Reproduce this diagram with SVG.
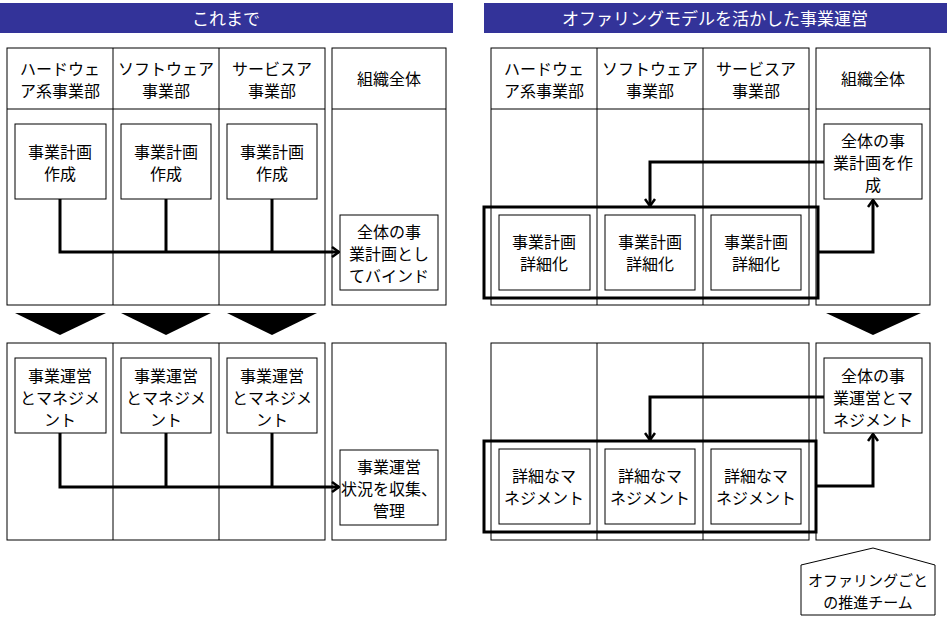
<svg xmlns="http://www.w3.org/2000/svg" width="950" height="625" viewBox="0 0 950 625">
<defs>
<style>
text{font-family:"Noto Sans CJK JP","Noto Sans CJK SC",sans-serif;font-size:16px;text-anchor:middle;fill:#000}
.hd{fill:#fff;font-size:17px}
.sm{font-size:15px}
.f{fill:#fff;stroke:#000;stroke-width:1}
.tk{fill:none;stroke:#000;stroke-width:3}
.ln{fill:none;stroke:#000;stroke-width:3}
</style>
<marker id="a" markerWidth="10" markerHeight="12" refX="8" refY="6" orient="auto" markerUnits="userSpaceOnUse"><path d="M1,1 L8,6 L1,11" fill="none" stroke="#000" stroke-width="2.5"/></marker>
</defs>
<rect x="0" y="3" width="453" height="30" fill="#333399"/>
<text class="hd" x="226" y="25">これまで</text>
<rect x="484" y="3" width="463" height="30" fill="#333399"/>
<text class="hd" x="715" y="25">オファリングモデルを活かした事業運営</text>

<g id="lanes">
<rect class="f" x="7" y="48" width="318" height="257"/>
<line x1="113" y1="48" x2="113" y2="305" stroke="#000"/><line x1="219" y1="48" x2="219" y2="305" stroke="#000"/>
<line x1="7" y1="109" x2="325" y2="109" stroke="#000"/>
<rect class="f" x="332" y="48" width="114" height="257"/><line x1="332" y1="109" x2="446" y2="109" stroke="#000"/>
<rect class="f" x="7" y="343" width="318" height="197"/>
<line x1="113" y1="343" x2="113" y2="540" stroke="#000"/><line x1="219" y1="343" x2="219" y2="540" stroke="#000"/>
<rect class="f" x="332" y="343" width="114" height="197"/>
<rect class="f" x="491" y="48" width="318" height="257"/>
<line x1="597" y1="48" x2="597" y2="305" stroke="#000"/><line x1="703" y1="48" x2="703" y2="305" stroke="#000"/>
<line x1="491" y1="109" x2="809" y2="109" stroke="#000"/>
<rect class="f" x="816" y="48" width="114" height="257"/><line x1="816" y1="109" x2="930" y2="109" stroke="#000"/>
<rect class="f" x="491" y="343" width="318" height="197"/>
<line x1="597" y1="343" x2="597" y2="540" stroke="#000"/><line x1="703" y1="343" x2="703" y2="540" stroke="#000"/>
<rect class="f" x="816" y="343" width="114" height="197"/>
<text x="60" y="75">ハードウェ</text><text x="60" y="97">ア系事業部</text>
<text x="166" y="75">ソフトウェア</text><text x="166" y="97">事業部</text>
<text x="272" y="75">サービスア</text><text x="272" y="97">事業部</text>
<text x="389" y="85">組織全体</text>
<text x="544" y="75">ハードウェ</text><text x="544" y="97">ア系事業部</text>
<text x="650" y="75">ソフトウェア</text><text x="650" y="97">事業部</text>
<text x="756" y="75">サービスア</text><text x="756" y="97">事業部</text>
<text x="873" y="85">組織全体</text>
</g>

<g id="tri">
<polygon points="15,313 106,313 60,335"/><polygon points="121,313 211,313 166,335"/><polygon points="227,313 317,313 272,335"/>
<polygon points="826,313 921,313 873,335"/>
</g>

<g id="connectors">
<polyline class="ln" points="60,199 60,252 339,252" marker-end="url(#a)"/>
<line class="ln" x1="166" y1="199" x2="166" y2="252"/><line class="ln" x1="272" y1="199" x2="272" y2="252"/>
<polyline class="ln" points="60,433 60,487 339,487" marker-end="url(#a)"/>
<line class="ln" x1="166" y1="433" x2="166" y2="487"/><line class="ln" x1="272" y1="433" x2="272" y2="487"/>
<polyline class="ln" points="824,162 650,162 650,206" marker-end="url(#a)"/>
<polyline class="ln" points="818,252 873,252 873,200" marker-end="url(#a)"/>
<polyline class="ln" points="824,397 650,397 650,440" marker-end="url(#a)"/>
<polyline class="ln" points="816,486 873,486 873,434" marker-end="url(#a)"/>
</g>

<g id="n1"><rect class="f" x="15" y="124" width="91" height="75"/><text x="60" y="158">事業計画</text><text x="60" y="180">作成</text></g>
<g id="n2"><rect class="f" x="121" y="124" width="90" height="75"/><text x="166" y="158">事業計画</text><text x="166" y="180">作成</text></g>
<g id="n3"><rect class="f" x="227" y="124" width="90" height="75"/><text x="272" y="158">事業計画</text><text x="272" y="180">作成</text></g>
<g id="n4"><rect class="f" x="340" y="215" width="98" height="75"/><text x="389" y="238">全体の事</text><text x="389" y="260">業計画とし</text><text x="389" y="282">てバインド</text></g>
<g id="n5"><rect class="f" x="15" y="358" width="91" height="75"/><text x="60" y="382">事業運営</text><text x="60" y="404">とマネジメ</text><text x="60" y="426">ント</text></g>
<g id="n6"><rect class="f" x="121" y="358" width="90" height="75"/><text x="166" y="382">事業運営</text><text x="166" y="404">とマネジメ</text><text x="166" y="426">ント</text></g>
<g id="n7"><rect class="f" x="227" y="358" width="90" height="75"/><text x="272" y="382">事業運営</text><text x="272" y="404">とマネジメ</text><text x="272" y="426">ント</text></g>
<g id="n8"><rect class="f" x="340" y="450" width="98" height="75"/><text x="389" y="473">事業運営</text><text x="389" y="495">状況を収集、</text><text x="389" y="517">管理</text></g>

<g id="n9"><rect class="f" x="824" y="124" width="98" height="75"/><text x="873" y="147">全体の事</text><text x="873" y="169">業計画を作</text><text x="873" y="191">成</text></g>
<rect class="tk" x="484" y="207" width="334" height="91"/>
<g id="n10"><rect class="f" x="499" y="215" width="91" height="75"/><text x="544" y="248">事業計画</text><text x="544" y="270">詳細化</text></g>
<g id="n11"><rect class="f" x="605" y="215" width="90" height="75"/><text x="650" y="248">事業計画</text><text x="650" y="270">詳細化</text></g>
<g id="n12"><rect class="f" x="711" y="215" width="90" height="75"/><text x="756" y="248">事業計画</text><text x="756" y="270">詳細化</text></g>
<g id="n13"><rect class="f" x="824" y="358" width="98" height="75"/><text x="873" y="382">全体の事</text><text x="873" y="404">業運営とマ</text><text x="873" y="426">ネジメント</text></g>
<rect class="tk" x="484" y="441" width="332" height="91"/>
<g id="n14"><rect class="f" x="499" y="449" width="91" height="75"/><text x="544" y="482">詳細なマ</text><text x="544" y="504">ネジメント</text></g>
<g id="n15"><rect class="f" x="605" y="449" width="90" height="75"/><text x="650" y="482">詳細なマ</text><text x="650" y="504">ネジメント</text></g>
<g id="n16"><rect class="f" x="711" y="449" width="90" height="75"/><text x="756" y="482">詳細なマ</text><text x="756" y="504">ネジメント</text></g>
<g id="n17"><polygon class="f" points="873,548 935,565 935,615 801,615 801,565"/><text class="sm" x="868" y="586">オファリングごと</text><text class="sm" x="868" y="608">の推進チーム</text></g>
</svg>
